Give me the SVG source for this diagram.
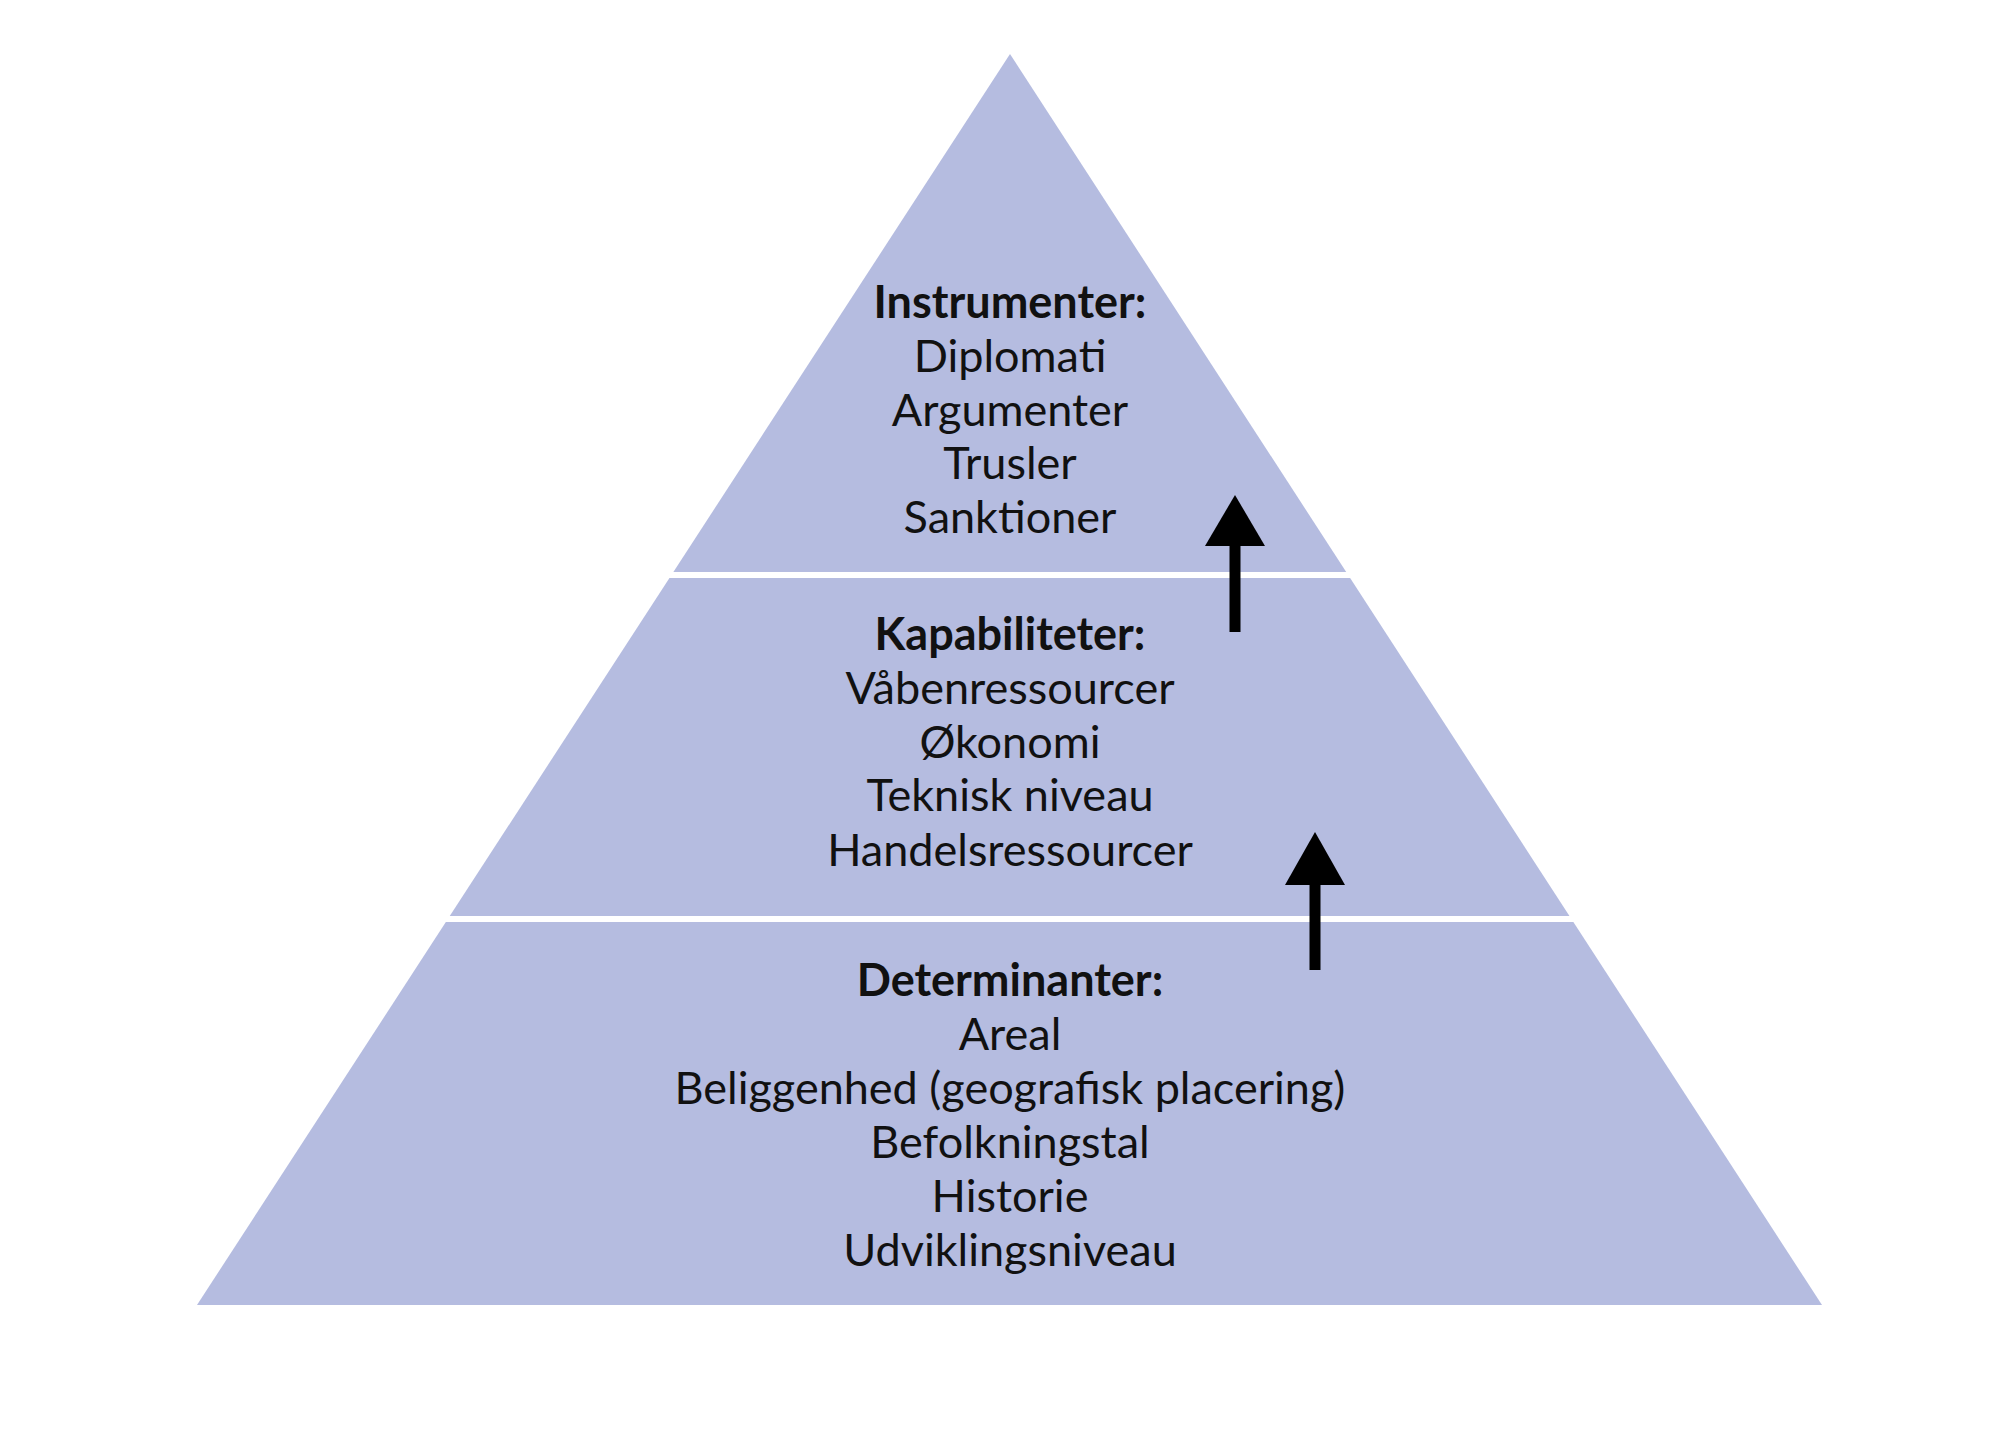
<svg xmlns="http://www.w3.org/2000/svg" width="2000" height="1433" viewBox="0 0 2000 1433">
<style>
text{font-family:Lato,"Liberation Sans",sans-serif;font-size:45px;fill:#111;text-anchor:middle}
.b{font-weight:bold}
.sep{stroke:#fff;stroke-width:6}
</style>
<rect width="2000" height="1433" fill="#fff"/>
<g id="pyramid">
<polygon points="1010,54 1822,1305 197,1305" fill="#b5bce0"/>
<line class="sep" x1="600" y1="575" x2="1420" y2="575"/>
<line class="sep" x1="400" y1="919" x2="1620" y2="919"/>
</g>
<g id="instrumenter">
<text class="b" x="1010" y="318">Instrumenter:</text>
<text x="1010" y="372">Diplomati</text>
<text x="1010" y="426">Argumenter</text>
<text x="1010" y="479">Trusler</text>
<text x="1010" y="533">Sanktioner</text>
</g>
<g id="kapabiliteter">
<text class="b" x="1010" y="650">Kapabiliteter:</text>
<text x="1010" y="704">Våbenressourcer</text>
<text x="1010" y="758">Økonomi</text>
<text x="1010" y="811">Teknisk niveau</text>
<text x="1010" y="866">Handelsressourcer</text>
</g>
<g id="determinanter">
<text class="b" x="1010" y="996">Determinanter:</text>
<text x="1010" y="1050">Areal</text>
<text x="1010" y="1104">Beliggenhed (geografisk placering)</text>
<text x="1010" y="1158">Befolkningstal</text>
<text x="1010" y="1212">Historie</text>
<text x="1010" y="1266">Udviklingsniveau</text>
</g>
<g id="connectors">
<line x1="1235" y1="632" x2="1235" y2="540" stroke="#000" stroke-width="11"/>
<polygon points="1235,495 1265,546 1205,546" fill="#000"/>
<line x1="1315" y1="970" x2="1315" y2="880" stroke="#000" stroke-width="11"/>
<polygon points="1315,832 1345,885 1285,885" fill="#000"/>
</g>
</svg>
